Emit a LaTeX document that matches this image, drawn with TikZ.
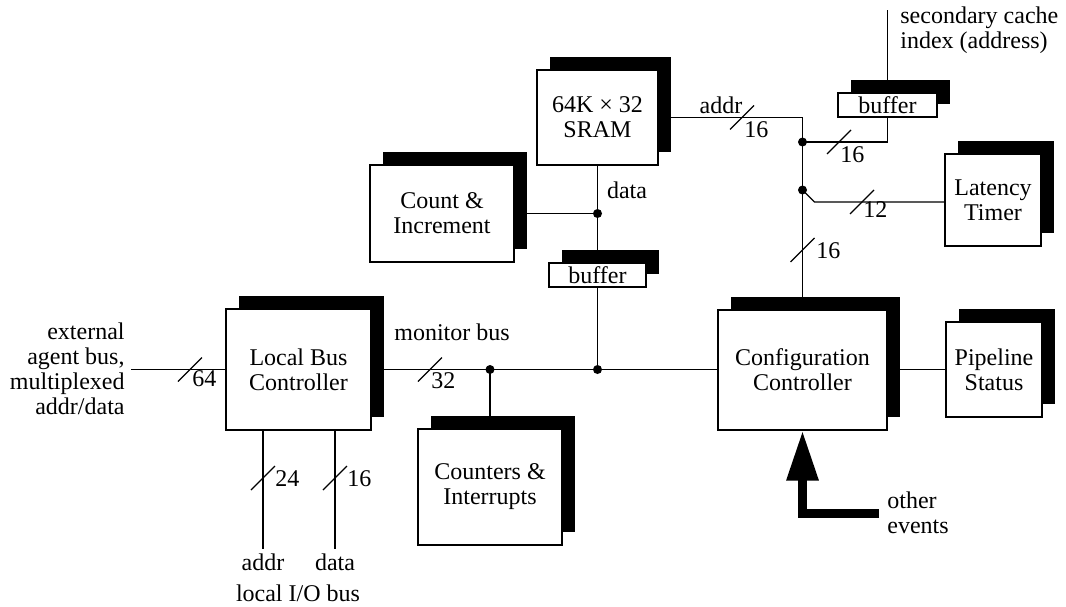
\documentclass[tikz,border=0pt]{standalone}
\usepackage{fontspec}
\setmainfont{Liberation Serif}
\usetikzlibrary{shadows,arrows.meta}

\tikzset{
  unit/.style={draw, fill=white, line width=1pt, align=center, inner sep=0pt,
    general shadow={fill=black, shadow xshift=6.5pt, shadow yshift=6.5pt}},
  wire/.style={line width=0.6pt},
  slash/.style={line width=0.6pt},
  buswidth/.style={anchor=west, inner sep=0pt},
  dot/.style={circle, fill=black, inner sep=0pt, minimum size=4.5pt},
  label text/.style={inner sep=0pt, align=center},
  events/.style={line width=4.5pt, line join=miter,
    -{Triangle[width=15pt,length=25pt]}}
}

\begin{document}
\begin{tikzpicture}[x=0.5pt, y=-0.5pt, font=\fontsize{12pt}{12.5pt}\selectfont]
  \useasboundingbox (0,0) rectangle (1066,606);

  % function units
  \node[unit, minimum width=60.5pt, minimum height=47.5pt] (sram) at (597.5,117.5) {64K × 32\\SRAM};
  \node[unit, minimum width=72pt, minimum height=48.5pt] (count) at (442,213.5) {Count \&\\Increment};
  \node[unit, minimum width=48.5pt, minimum height=12pt] (buf1) at (597.5,275) {buffer};
  \node[unit, minimum width=49.5pt, minimum height=12pt] (buf2) at (887.5,105) {buffer};
  \node[unit, minimum width=48pt, minimum height=46pt] (latency) at (993,200) {Latency\\Timer};
  \node[unit, minimum width=72.5pt, minimum height=60.5pt] (lbc) at (298.5,369.5) {Local Bus\\Controller};
  \node[unit, minimum width=84.5pt, minimum height=60pt] (config) at (802.5,369.5) {Configuration\\Controller};
  \node[unit, minimum width=48pt, minimum height=47.5pt] (pipe) at (994,369.5) {Pipeline\\Status};
  \node[unit, minimum width=72pt, minimum height=58pt] (counters) at (490,487) {Counters \&\\Interrupts};

  % free ends and junctions
  \coordinate (ext) at (131,369.5);
  \coordinate (ioaddr) at (263,549);
  \coordinate (iodata) at (335,549);
  \coordinate (cache) at (887.5,10);
  \coordinate (evt) at (879,513);
  \coordinate (jdata) at (sram.south |- count.east);
  \coordinate (jbus) at (buf1.south |- lbc.east);
  \coordinate (jcnt) at (counters.north |- lbc.east);
  \coordinate (jidx) at (802.5,142);
  \coordinate (jlat) at (802.5,190);

  % connections
  \draw[wire] (ext) -- (lbc.west);
  \draw[wire] (lbc.east) -- (config.west);
  \draw[wire] (config.east) -- (pipe.west);
  \draw[wire] (ioaddr |- lbc.south) -- (ioaddr);
  \draw[wire] (iodata |- lbc.south) -- (iodata);
  \draw[wire] (counters.north) -- (jcnt);
  \draw[wire] (sram.south) -- (buf1.north);
  \draw[wire] (count.east) -- (jdata);
  \draw[wire] (buf1.south) -- (jbus);
  \draw[wire] (sram.east) -| (config.north);
  \draw[wire] (jidx) -| (buf2.south);
  \draw[wire] (buf2.north) -- (cache);
  \draw[wire] (jlat) -- ++(12,12) coordinate (bend) -- (bend -| latency.west);
  \draw[events] (evt) -| (config.south);

  \node[dot] (d1) at (jdata) {};
  \node[dot] (d2) at (jbus) {};
  \node[dot] (d3) at (jcnt) {};
  \node[dot] (d4) at (jidx) {};
  \node[dot] (d5) at (jlat) {};

  % bus widths
  \draw[slash] (190,369.5) ++(-12,12) -- ++(24,-24);
  \draw[slash] (430,369.5) ++(-12,12) -- ++(24,-24);
  \draw[slash] (263,478) ++(-12,12) -- ++(24,-24);
  \draw[slash] (335,478) ++(-12,12) -- ++(24,-24);
  \draw[slash] (742,117.5) ++(-12,12) -- ++(24,-24);
  \draw[slash] (839,142) ++(-12,12) -- ++(24,-24);
  \draw[slash] (862,202) ++(-12,12) -- ++(24,-24);
  \draw[slash] (802.5,250) ++(-12,12) -- ++(24,-24);
  \node[buswidth] (wext) at (192,379) {64};
  \node[buswidth] (wmon) at (431,381) {32};
  \node[buswidth] (wioa) at (275,479) {24};
  \node[buswidth] (wiod) at (347,479) {16};
  \node[buswidth] (wadr) at (744,130) {16};
  \node[buswidth] (widx) at (840,155) {16};
  \node[buswidth] (wlat) at (863,210) {12};
  \node[buswidth] (wcfg) at (816,251) {16};

  % labels
  \node[label text, anchor=east, align=right] (extlbl) at (125,369) {external\\agent bus,\\multiplexed\\addr/data};
  \node[label text] (monlbl) at (452,332) {monitor bus};
  \node[label text] (datalbl) at (627,190) {data};
  \node[label text] (addrlbl) at (721,105) {addr};
  \node[label text, anchor=west, align=left] (cachelbl) at (900,30) {secondary cache\\index (address)};
  \node[label text, anchor=west, align=left] (evtlbl) at (887,513) {other\\events};
  \node[label text] (ioalbl) at (263,562) {addr};
  \node[label text] (iodlbl) at (335,562) {data};
  \node[label text, anchor=base] (iolbl) at (298,601) {local I/O bus};
\end{tikzpicture}
\end{document}
